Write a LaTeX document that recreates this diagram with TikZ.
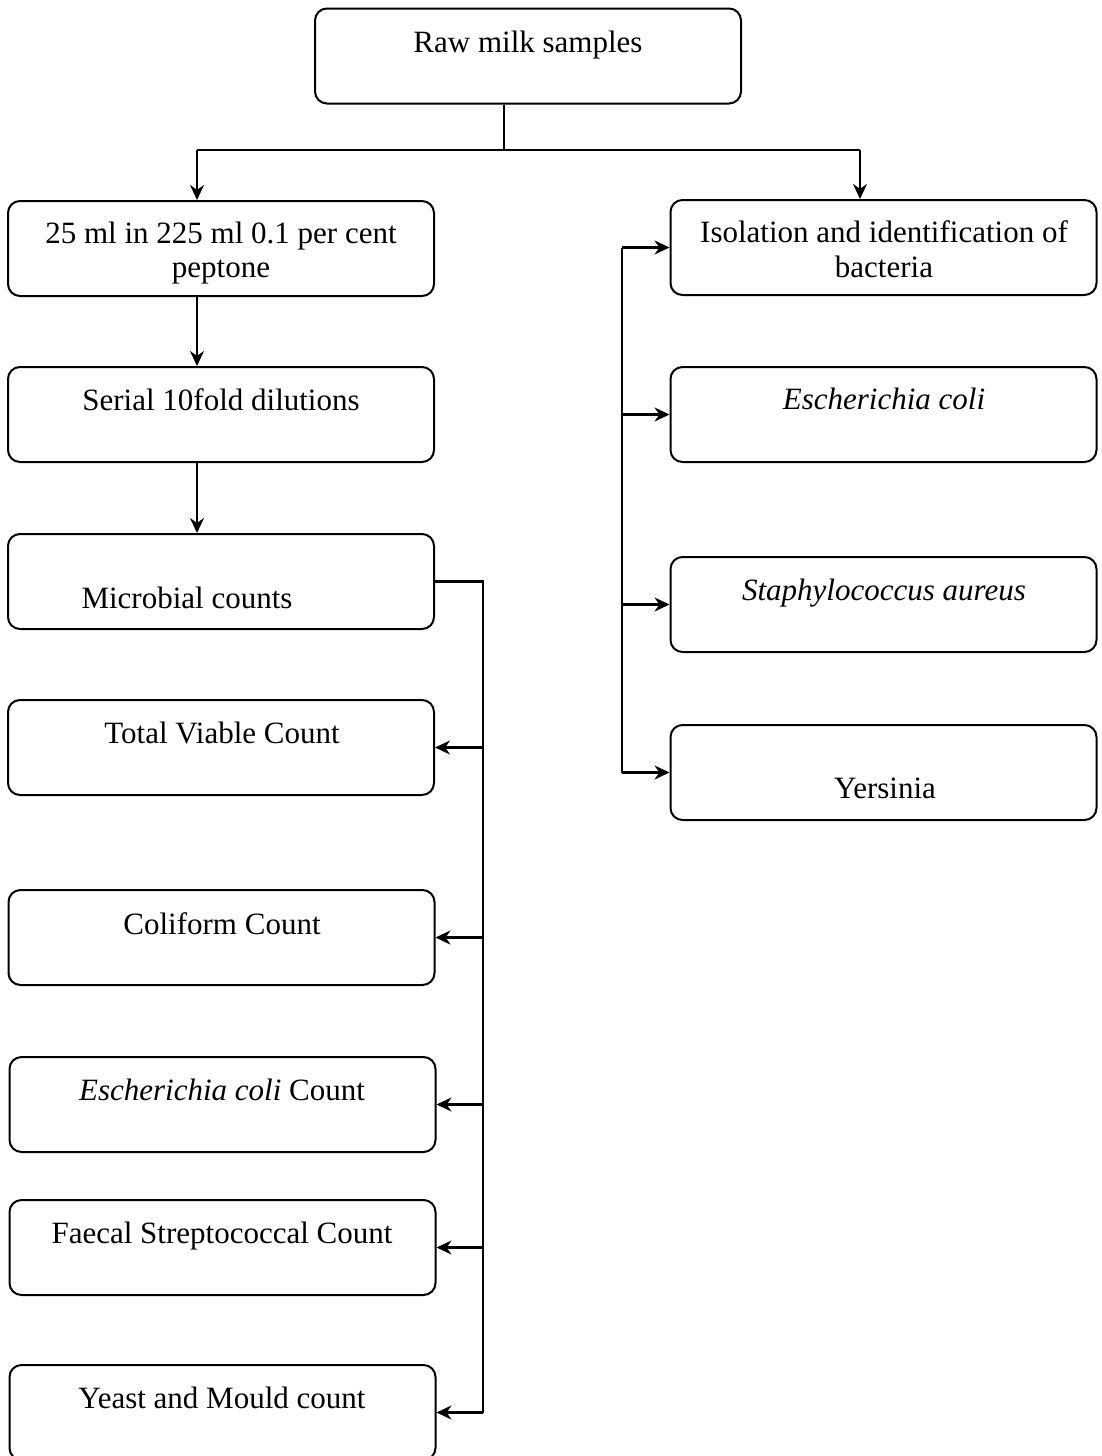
\documentclass[tikz,border=0pt]{standalone}
\usepackage{fontspec}
\setmainfont{Liberation Serif}
\usetikzlibrary{arrows.meta}
\begin{document}
\begin{tikzpicture}[x=0.5pt,y=-0.5pt,
  box/.style={draw, line width=1pt, rounded corners=6pt, minimum width=213pt, minimum height=47.5pt, inner sep=0pt},
  lbl/.style={font=\fontsize{15.5pt}{18pt}\selectfont, inner sep=0pt, align=center, anchor=base},
  conn/.style={line width=1.1pt},
  arr/.style={line width=1.1pt, -{Stealth[length=7.5pt,width=7pt]}}]
\useasboundingbox (0,0) rectangle (1102,1456);
% boxes
\node[box] (raw) at (528,56) {};
\node[box] (b25) at (221,248.5) {};
\node[box] (serial) at (221,414.5) {};
\node[box] (micro) at (221,581.5) {};
\node[box] (tvc) at (221,747.5) {};
\node[box] (coli) at (221.5,937.5) {};
\node[box] (ecc) at (222.5,1104.5) {};
\node[box] (faecal) at (222.5,1247.5) {};
\node[box] (yeast) at (222.5,1412.5) {};
\node[box] (iso) at (883.5,247.5) {};
\node[box] (ecoli) at (883.5,414.5) {};
\node[box] (staph) at (883.5,604.5) {};
\node[box] (yers) at (883.5,772.5) {};
% texts (placed by baseline)
\node[lbl] (traw) at (528,52) {Raw milk samples};
\node[lbl] (tb25a) at (221,243) {25 ml in 225 ml 0.1 per cent};
\node[lbl] (tb25b) at (221,277) {peptone};
\node[lbl] (tserial) at (221,410) {Serial 10fold dilutions};
\node[lbl] (tmicro) at (187,608) {Microbial counts};
\node[lbl] (ttvc) at (222,743) {Total Viable Count};
\node[lbl] (tcoli) at (222,934) {Coliform Count};
\node[lbl] (tecc) at (222,1100) {\textit{Escherichia coli} Count};
\node[lbl] (tfaecal) at (222,1243) {Faecal Streptococcal Count};
\node[lbl] (tyeast) at (222,1408) {Yeast and Mould count};
\node[lbl] (tisoa) at (884,242) {Isolation and identification of};
\node[lbl] (tisob) at (884,277) {bacteria};
\node[lbl] (tecoli) at (884,409) {\textit{Escherichia coli}};
\node[lbl] (tstaph) at (884,600) {\textit{Staphylococcus aureus}};
\node[lbl] (tyers) at (885,798) {Yersinia};
% top split
\coordinate (j) at (504,150);
\coordinate (jl) at (197,150);
\coordinate (jr) at (860,150);
\draw[conn] (raw.south -| j) -- (j);
\draw[conn] (jl) -- (jr);
\draw[arr] (jl) -- (b25.north -| jl);
\draw[arr] (jr) -- (iso.north -| jr);
% left chain
\draw[arr] (b25.south -| jl) -- (serial.north -| jl);
\draw[arr] (serial.south -| jl) -- (micro.north -| jl);
% microbial bus
\coordinate (lb) at (483,582);
\draw[conn] (micro.east) -- (micro.east -| lb) -- (yeast.east -| lb);
\foreach \n in {tvc,coli,ecc,faecal,yeast}{
  \draw[arr] (\n.east -| lb) -- (\n.east);
}
% right bus
\coordinate (rb) at (622,247);
\draw[conn] (iso.west -| rb) -- (yers.west -| rb);
\foreach \n in {iso,ecoli,staph,yers}{
  \draw[arr] (\n.west -| rb) -- (\n.west);
}
\end{tikzpicture}
\end{document}
